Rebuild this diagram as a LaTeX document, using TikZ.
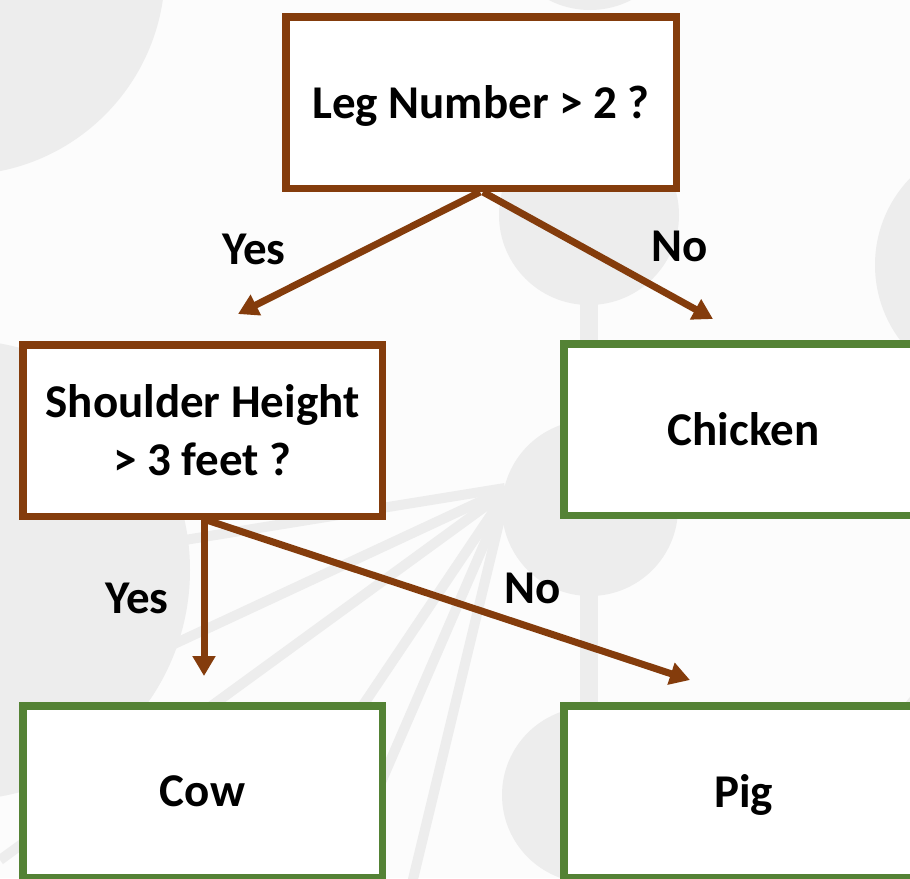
\documentclass[tikz,border=0pt]{standalone}
\usepackage{fontspec}
\setmainfont{Carlito}
\usetikzlibrary{arrows.meta}
\definecolor{bgpaper}{HTML}{FCFCFC}
\definecolor{bgshape}{HTML}{EDEDED}
\definecolor{splitbrown}{HTML}{843C0C}
\definecolor{leafgreen}{HTML}{548235}
\tikzset{
  box/.style={draw, line width=7.5pt, fill=white, minimum width=359.5pt,
    minimum height=171.5pt, inner sep=0pt, align=center, text depth=0pt,
    font=\fontsize{47}{58}\selectfont\bfseries},
  testbox/.style={box, draw=splitbrown},
  leafbox/.style={box, draw=leafgreen},
  branch/.style={draw=splitbrown, line width=7pt,
    -{Triangle[length=20pt,width=22pt]}},
  answer/.style={font=\fontsize{47}{54}\selectfont\bfseries, inner sep=0pt},
  motif/.style={fill=bgshape, draw=none},
  twig/.style={draw=bgshape, line width=10pt}
}
\begin{document}
\begin{tikzpicture}[x=1pt, y=-1pt]
\useasboundingbox (0,0) rectangle (910,878);
\clip (0,0) rectangle (910,878);
% paper and faint tree motif
\fill[bgpaper] (0,0) rectangle (910,878);
\fill[motif] (-40,-30) circle (205);
\fill[motif] (-40,570) circle (230);
\fill[motif] (590,-80) circle (90);
\fill[motif] (589,215) circle (90);
\fill[motif] (590,508) circle (88);
\fill[motif] (590,795) circle (88);
\fill[motif] (1000,265) circle (125);
\fill[motif] (1010,780) circle (130);
\fill[motif] (580,300) rectangle (598,720);
\path[twig] (505,488) -- (0,570);
\path[twig] (505,490) -- (0,725);
\path[twig] (505,492) -- (0,860);
\path[twig] (505,494) -- (232,900);
\path[twig] (505,496) -- (330,900);
\path[twig] (505,498) -- (408,900);
% decision nodes
\node[testbox, minimum width=390.5pt] (legs) at (481,102.5) {Leg Number > 2 ?};
\node[testbox] (height) at (202.5,430.5) {Shoulder Height\\> 3 feet ?};
\node[leafbox] (chicken) at (743.5,429.5) {Chicken};
\node[leafbox] (cow) at (202.5,791.5) {Cow};
\node[leafbox] (pig) at (743.5,791.5) {Pig};
% arrow tips
\coordinate (tipA) at (238,314);
\coordinate (tipB) at (713,319);
\coordinate (tipC) at (204,676);
\coordinate (tipD) at (690,680);
\draw[branch] ([xshift=-1pt]legs.south) -- (tipA);
\draw[branch] ([xshift=2pt]legs.south) -- (tipB);
\draw[branch] ([xshift=1.5pt]height.south) -- (tipC);
\draw[branch] ([xshift=4pt]height.south) -- (tipD);
% answers
\node[answer] (yesA) at (254,249) {Yes};
\node[answer] (noA) at (680,246) {No};
\node[answer] (yesB) at (137,598) {Yes};
\node[answer] (noB) at (533,588) {No};
\end{tikzpicture}
\end{document}
